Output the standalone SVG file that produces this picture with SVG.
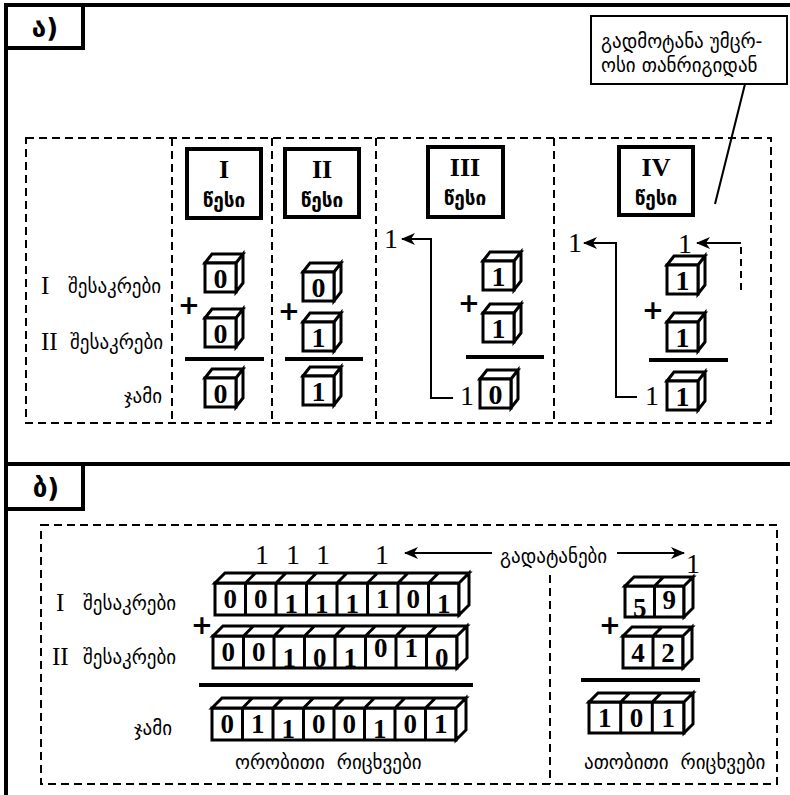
<svg xmlns="http://www.w3.org/2000/svg" width="790" height="795" viewBox="0 0 790 795">
<style>
.frame{fill:none;stroke:#000;stroke-width:4}
.dash{fill:none;stroke:#000;stroke-width:2;stroke-dasharray:8 5}
.rule{fill:#fff;stroke:#000;stroke-width:4}
.cb{fill:#fff;stroke:#000;stroke-width:3;stroke-linejoin:miter}
.bar{stroke:#000;stroke-width:4}
.ln{fill:none;stroke:#000;stroke-width:2}
.ka{font-family:"DejaVu Sans",sans-serif;font-size:19px;fill:#000}
.rm{font-family:"Liberation Serif",serif;font-size:25px;fill:#000}
.d{font-family:"Liberation Serif",serif;font-weight:bold;font-size:28px;text-anchor:middle;fill:#000}
.e{font-family:"Liberation Serif",serif;font-weight:bold;font-size:27px;text-anchor:middle;fill:#000}
.c{font-family:"Liberation Serif",serif;font-size:28px;text-anchor:middle;fill:#000}
.pl{font-family:"DejaVu Sans",sans-serif;font-weight:bold;font-size:26px;text-anchor:middle;fill:#000}
.rt{font-family:"Liberation Serif",serif;font-weight:bold;font-size:26px;text-anchor:middle;fill:#000}
.rk{font-family:"DejaVu Sans",sans-serif;font-weight:bold;font-size:19px;text-anchor:middle;fill:#000}
.lab{font-family:"DejaVu Sans","Liberation Serif",serif;font-weight:bold;font-size:26px;text-anchor:middle;fill:#000}
</style>
<defs>
<g id="cube" class="cb"><path d="M0,0 L7,-9 H38 L31,0 Z M31,0 L38,-9 V20 L31,29 Z"/><rect width="31" height="29"/></g>
<marker id="ah" viewBox="0 0 14 12" refX="13" refY="6" markerWidth="14" markerHeight="12" markerUnits="userSpaceOnUse" orient="auto"><path d="M0,0 L14,6 L0,12 L4,6 Z" fill="#000"/></marker>
</defs>

<!-- frames -->
<g id="frame">
<path class="frame" d="M6,5 H790 M6,5 V795 M6,464 H790"/>
<rect class="frame" x="6" y="5" width="77" height="43"/>
<rect class="frame" x="6" y="464" width="77" height="45"/>
<text class="lab" x="45" y="37">ა)</text>
<text class="lab" x="46" y="497">ბ)</text>
</g>

<!-- top dashed panel -->
<g id="panelA">
<rect class="dash" x="26" y="138" width="745" height="285"/>
<path class="dash" d="M172,138 V423 M272,138 V423 M376,138 V423 M554,138 V423"/>
</g>

<g id="callout">
<rect x="591" y="16" width="196" height="68" fill="#fff" stroke="#000" stroke-width="2"/>
<text class="ka" x="601" y="48">გადმოტანა უმცრ-</text>
<text class="ka" x="601" y="72">ოსი თანრიგიდან</text>
</g>

<g id="labelsA">
<text class="rm" x="41" y="294">I</text><text class="ka" x="68" y="293">შესაკრები</text>
<text class="rm" x="41" y="350">II</text><text class="ka" x="70" y="349">შესაკრები</text>
<text class="ka" x="162" y="403" text-anchor="end">ჯამი</text>
</g>

<g id="rule1">
<rect class="rule" x="187" y="149" width="74" height="69"/>
<text class="rt" x="224" y="178">I</text><text class="rk" x="224" y="207">წესი</text>
<use href="#cube" x="205" y="263"/><text class="d" x="220.5" y="288">0</text>
<text class="pl" x="189" y="314">+</text>
<use href="#cube" x="205" y="318"/><text class="d" x="220.5" y="343">0</text>
<line class="bar" x1="185" y1="359" x2="264" y2="359"/>
<use href="#cube" x="205" y="378"/><text class="d" x="220.5" y="403">0</text>
</g>

<g id="rule2">
<rect class="rule" x="285" y="149" width="74" height="68"/>
<text class="rt" x="322" y="178">II</text><text class="rk" x="322" y="207">წესი</text>
<use href="#cube" x="303" y="272"/><text class="d" x="318.5" y="297">0</text>
<text class="pl" x="289" y="320">+</text>
<use href="#cube" x="303" y="322"/><text class="d" x="318.5" y="347">1</text>
<line class="bar" x1="285" y1="359" x2="363" y2="359"/>
<use href="#cube" x="303" y="376"/><text class="d" x="318.5" y="401">1</text>
</g>

<g id="rule3">
<rect class="rule" x="428" y="147" width="75" height="70"/>
<text class="rt" x="465" y="176">III</text><text class="rk" x="465" y="205">წესი</text>
<use href="#cube" x="483" y="261"/><text class="d" x="498.5" y="286">1</text>
<text class="pl" x="469" y="312">+</text>
<use href="#cube" x="483" y="313"/><text class="d" x="498.5" y="338">1</text>
<line class="bar" x1="466" y1="357" x2="544" y2="357"/>
<use href="#cube" x="480" y="379"/><text class="d" x="495.5" y="404">0</text>
<text class="c" x="467" y="405">1</text>
<text class="c" x="391" y="248">1</text>
</g>

<g id="rule4">
<rect class="rule" x="619" y="147" width="74" height="68"/>
<text class="rt" x="656" y="176">IV</text><text class="rk" x="656" y="205">წესი</text>
<use href="#cube" x="667" y="265"/><text class="d" x="682.5" y="290">1</text>
<text class="pl" x="653" y="319">+</text>
<use href="#cube" x="667" y="322"/><text class="d" x="682.5" y="347">1</text>
<line class="bar" x1="649" y1="360" x2="728" y2="360"/>
<use href="#cube" x="667" y="381"/><text class="d" x="682.5" y="406">1</text>
<text class="c" x="652" y="405">1</text>
<text class="c" x="575" y="252">1</text>
<text class="c" x="685" y="253">1</text>
</g>

<!-- bottom panel -->
<g id="panelB">
<rect class="dash" x="41" y="525" width="736" height="259"/>
<path class="dash" d="M550,575 V784"/>
</g>

<g id="labelsB">
<text class="rm" x="56" y="611">I</text><text class="ka" x="83" y="610">შესაკრები</text>
<text class="rm" x="52" y="665">II</text><text class="ka" x="83" y="664">შესაკრები</text>
<text class="ka" x="172" y="735" text-anchor="end">ჯამი</text>
<text class="ka" x="235" y="769" style="white-space:pre">ორობითი  რიცხვები</text>
<text class="ka" x="584" y="769" style="white-space:pre">ათობითი  რიცხვები</text>
<text class="ka" x="500" y="563">გადატანები</text>
</g>

<g id="carries">
<text class="c" x="262" y="564">1</text>
<text class="c" x="293" y="564">1</text>
<text class="c" x="323" y="564">1</text>
<text class="c" x="382" y="564">1</text>
<text class="c" x="693" y="573">1</text>
</g>

<g id="binRow1" class="cb">
<rect x="215" y="583" width="244" height="32"/>
<path d="M215,583 L225,573 H469 L459,583 Z M459,583 L469,573 V605 L459,615 Z M245.5,583 V615 M276,583 V615 M306.5,583 V615 M337,583 V615 M367.5,583 V615 M398,583 V615 M428.5,583 V615 M245.5,583 l10,-10 M276,583 l10,-10 M306.5,583 l10,-10 M337,583 l10,-10 M367.5,583 l10,-10 M398,583 l10,-10 M428.5,583 l10,-10"/>
</g>
<g id="binRow1d">
<text class="e" x="230.25" y="608">0</text><text class="e" x="260.75" y="608">0</text><text class="e" x="291.25" y="613">1</text><text class="e" x="321.75" y="613">1</text><text class="e" x="352.25" y="613">1</text><text class="e" x="382.75" y="608">1</text><text class="e" x="413.25" y="608">0</text><text class="e" x="443.75" y="613">1</text>
</g>

<text class="pl" x="202" y="634">+</text>

<g id="binRow2" class="cb">
<rect x="213" y="636" width="244" height="32"/>
<path d="M213,636 L223,626 H467 L457,636 Z M457,636 L467,626 V658 L457,668 Z M243.5,636 V668 M274,636 V668 M304.5,636 V668 M335,636 V668 M365.5,636 V668 M396,636 V668 M426.5,636 V668 M243.5,636 l10,-10 M274,636 l10,-10 M304.5,636 l10,-10 M335,636 l10,-10 M365.5,636 l10,-10 M396,636 l10,-10 M426.5,636 l10,-10"/>
</g>
<g id="binRow2d">
<text class="e" x="228.25" y="661">0</text><text class="e" x="258.75" y="661">0</text><text class="e" x="289.25" y="667">1</text><text class="e" x="319.75" y="667">0</text><text class="e" x="350.25" y="667">1</text><text class="e" x="380.75" y="657">0</text><text class="e" x="411.25" y="657">1</text><text class="e" x="441.75" y="667">0</text>
</g>

<line class="bar" x1="199" y1="685" x2="473" y2="685"/>

<g id="binRow3" class="cb">
<rect x="212" y="708" width="244" height="32"/>
<path d="M212,708 L222,698 H466 L456,708 Z M456,708 L466,698 V730 L456,740 Z M242.5,708 V740 M273,708 V740 M303.5,708 V740 M334,708 V740 M364.5,708 V740 M395,708 V740 M425.5,708 V740 M242.5,708 l10,-10 M273,708 l10,-10 M303.5,708 l10,-10 M334,708 l10,-10 M364.5,708 l10,-10 M395,708 l10,-10 M425.5,708 l10,-10"/>
</g>
<g id="binRow3d">
<text class="e" x="227.25" y="733">0</text><text class="e" x="257.75" y="733">1</text><text class="e" x="288.25" y="738">1</text><text class="e" x="318.75" y="733">0</text><text class="e" x="349.25" y="733">0</text><text class="e" x="379.75" y="738">1</text><text class="e" x="410.25" y="733">0</text><text class="e" x="440.75" y="733">1</text>
</g>

<g id="decRowA" class="cb">
<rect x="625" y="586" width="59" height="31"/>
<path d="M625,586 L634,577 H693 L684,586 Z M684,586 L693,577 V608 L684,617 Z M654.5,586 V617 M654.5,586 l9,-9"/>
</g>
<text class="e" x="639.75" y="617">5</text><text class="e" x="669.25" y="609">9</text>
<text class="pl" x="610" y="634">+</text>
<g id="decRowB" class="cb">
<rect x="623" y="636" width="60" height="32"/>
<path d="M623,636 L632,627 H692 L683,636 Z M683,636 L692,627 V659 L683,668 Z M653,636 V668 M653,636 l9,-9"/>
</g>
<text class="e" x="638" y="662">4</text><text class="e" x="668" y="662">2</text>
<line class="bar" x1="581" y1="680" x2="700" y2="680"/>
<g id="decRowC" class="cb">
<rect x="589" y="702" width="95" height="31"/>
<path d="M589,702 L598,693 H693 L684,702 Z M684,702 L693,693 V724 L684,733 Z M620.7,702 V733 M652.3,702 V733 M620.7,702 l9,-9 M652.3,702 l9,-9"/>
</g>
<text class="e" x="604.8" y="727">1</text><text class="e" x="636.5" y="727">0</text><text class="e" x="668.2" y="727">1</text>

<!-- connectors -->
<g id="connectors">
<path class="ln" d="M745,84 L715,204"/>
<path class="ln" d="M453,398 H431 V239 H402" marker-end="url(#ah)"/>
<path class="ln" d="M637,397 H616 V243 H584" marker-end="url(#ah)"/>
<path class="ln" d="M741,243 H697" marker-end="url(#ah)"/>
<path class="ln" d="M741,290 V243" stroke-dasharray="7 5"/>
<path class="ln" d="M492,553 H405" marker-end="url(#ah)"/>
<path class="ln" d="M617,553 H684" marker-end="url(#ah)"/>
</g>
</svg>
